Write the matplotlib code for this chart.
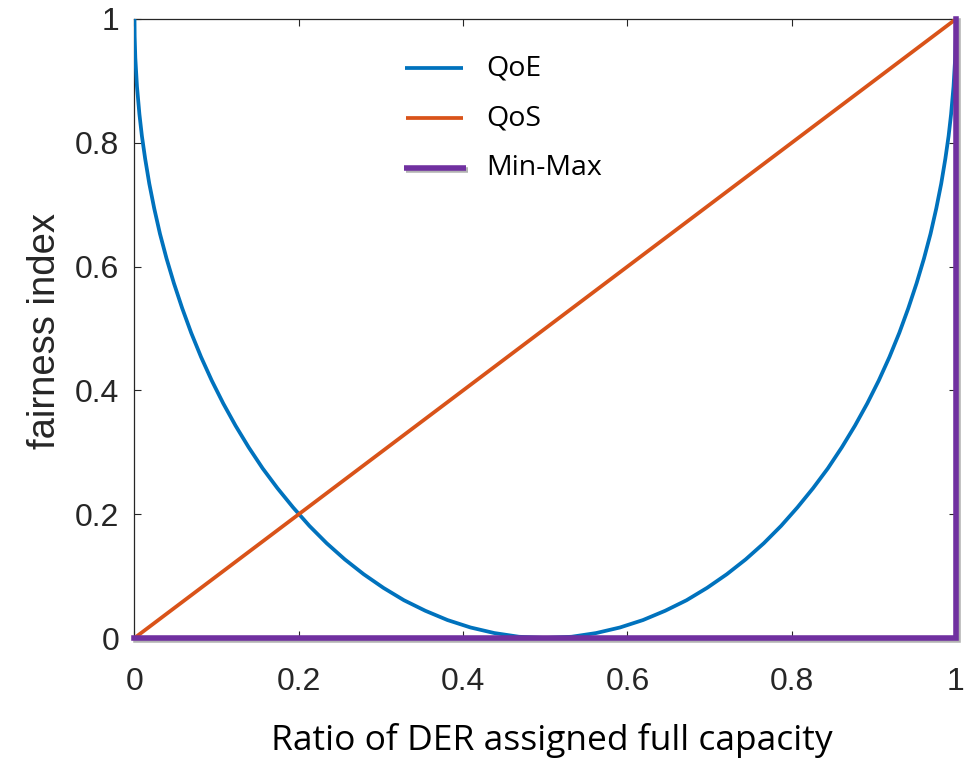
import matplotlib
matplotlib.use("Agg")
import matplotlib.pyplot as plt
from matplotlib.lines import Line2D
import matplotlib.patheffects as pe

# Share of DERs assigned full capacity vs. fairness index
qoe_x = [0.0, 0.0002, 0.001, 0.003, 0.006, 0.009, 0.013, 0.018, 0.024, 0.031,
         0.039, 0.048, 0.058, 0.069, 0.081, 0.094, 0.108, 0.123, 0.139, 0.156,
         0.174, 0.193, 0.213, 0.234, 0.256, 0.279, 0.303, 0.328, 0.354, 0.381,
         0.409, 0.438, 0.468, 0.500,
         0.532, 0.562, 0.591, 0.619, 0.646, 0.672, 0.697, 0.721, 0.744, 0.766,
         0.787, 0.807, 0.826, 0.844, 0.861, 0.877, 0.892, 0.906, 0.919, 0.931,
         0.942, 0.952, 0.961, 0.969, 0.976, 0.982, 0.987, 0.991, 0.994, 0.997,
         0.999, 0.9998, 1.0]
qoe_y = [1.0, 0.972, 0.937, 0.891, 0.846, 0.811, 0.774, 0.734, 0.694, 0.653,
         0.613, 0.573, 0.533, 0.493, 0.454, 0.416, 0.379, 0.343, 0.308, 0.274,
         0.242, 0.211, 0.181, 0.153, 0.127, 0.103, 0.081, 0.061, 0.044, 0.029,
         0.017, 0.008, 0.002, 0.0,
         0.002, 0.008, 0.017, 0.029, 0.044, 0.061, 0.081, 0.103, 0.127, 0.153,
         0.181, 0.211, 0.242, 0.274, 0.308, 0.343, 0.379, 0.416, 0.454, 0.493,
         0.533, 0.573, 0.613, 0.653, 0.694, 0.734, 0.774, 0.811, 0.846, 0.891,
         0.937, 0.972, 1.0]

qos_x = [0.0, 1.0]
qos_y = [0.0, 1.0]

minmax_x = [0.0, 1.0, 1.0]
minmax_y = [0.0, 0.0, 1.0]

series_names = ["QoE", "QoS", "Min-Max"]
tick_values = [0, 0.2, 0.4, 0.6, 0.8, 1]
tick_labels = ["0", "0.2", "0.4", "0.6", "0.8", "1"]

BLUE = "#0072BD"
ORANGE = "#D95319"
PURPLE = "#7030A0"
AXIS_COL = "#262626"

W, H = 979, 762
fig = plt.figure(figsize=(W / 100, H / 100), dpi=100)
ax = fig.add_axes([134.5 / W, 1 - 638 / H, (956 - 134.5) / W, (638 - 19) / H])

shadow = [pe.SimpleLineShadow(offset=(1.2, -1.5), shadow_color="#555555", alpha=0.45),
          pe.Normal()]

l_qoe, = ax.plot(qoe_x, qoe_y, color=BLUE, lw=2.7, solid_capstyle="butt",
                 solid_joinstyle="round", zorder=3)
l_qos, = ax.plot(qos_x, qos_y, color=ORANGE, lw=2.7, solid_capstyle="butt", zorder=3)
l_mm, = ax.plot(minmax_x, minmax_y, color=PURPLE, lw=4.0, clip_on=False,
                solid_joinstyle="miter", zorder=4, path_effects=shadow)

ax.set_xlim(0, 1)
ax.set_ylim(0, 1)
ax.set_xticks(tick_values)
ax.set_xticklabels(tick_labels)
ax.set_yticks(tick_values)
ax.set_yticklabels(tick_labels)

for s in ax.spines.values():
    s.set_color(AXIS_COL)
    s.set_linewidth(0.9)

ax.tick_params(axis="both", direction="in", length=5, width=0.8, color=AXIS_COL,
               top=True, right=True, labelcolor=AXIS_COL)
ax.tick_params(axis="x", pad=21)
ax.tick_params(axis="y", pad=11)
for lab in ax.get_xticklabels() + ax.get_yticklabels():
    lab.set_fontfamily("Liberation Sans")
    lab.set_fontsize(23)

fig.text(45 / W, 1 - 331 / H, "fairness index", rotation=90, ha="center",
         va="center", family="Liberation Sans", size=27.5, color=AXIS_COL)

fig.text(552 / W, 1 - 750 / H, "Ratio of DER assigned full capacity", ha="center",
         va="baseline", family="Open Sans", size=25.5, color="black")

# legend entries, drawn without a frame
legend_rows = [(l_qoe, 68, 405, 463), (l_qos, 118, 406, 463), (l_mm, 168, 404, 466)]
for (line, ypix, x0, x1), name in zip(legend_rows, series_names):
    yf = 1 - ypix / H
    h = Line2D([x0 / W, x1 / W], [yf, yf], transform=fig.transFigure,
               color=line.get_color(), lw=line.get_linewidth(),
               solid_capstyle="butt", path_effects=line.get_path_effects())
    fig.add_artist(h)
    fig.text(486 / W, yf, name, ha="left", va="center", family="Open Sans",
             size=20.5, color="black")

fig.savefig("out.png", dpi=100)
